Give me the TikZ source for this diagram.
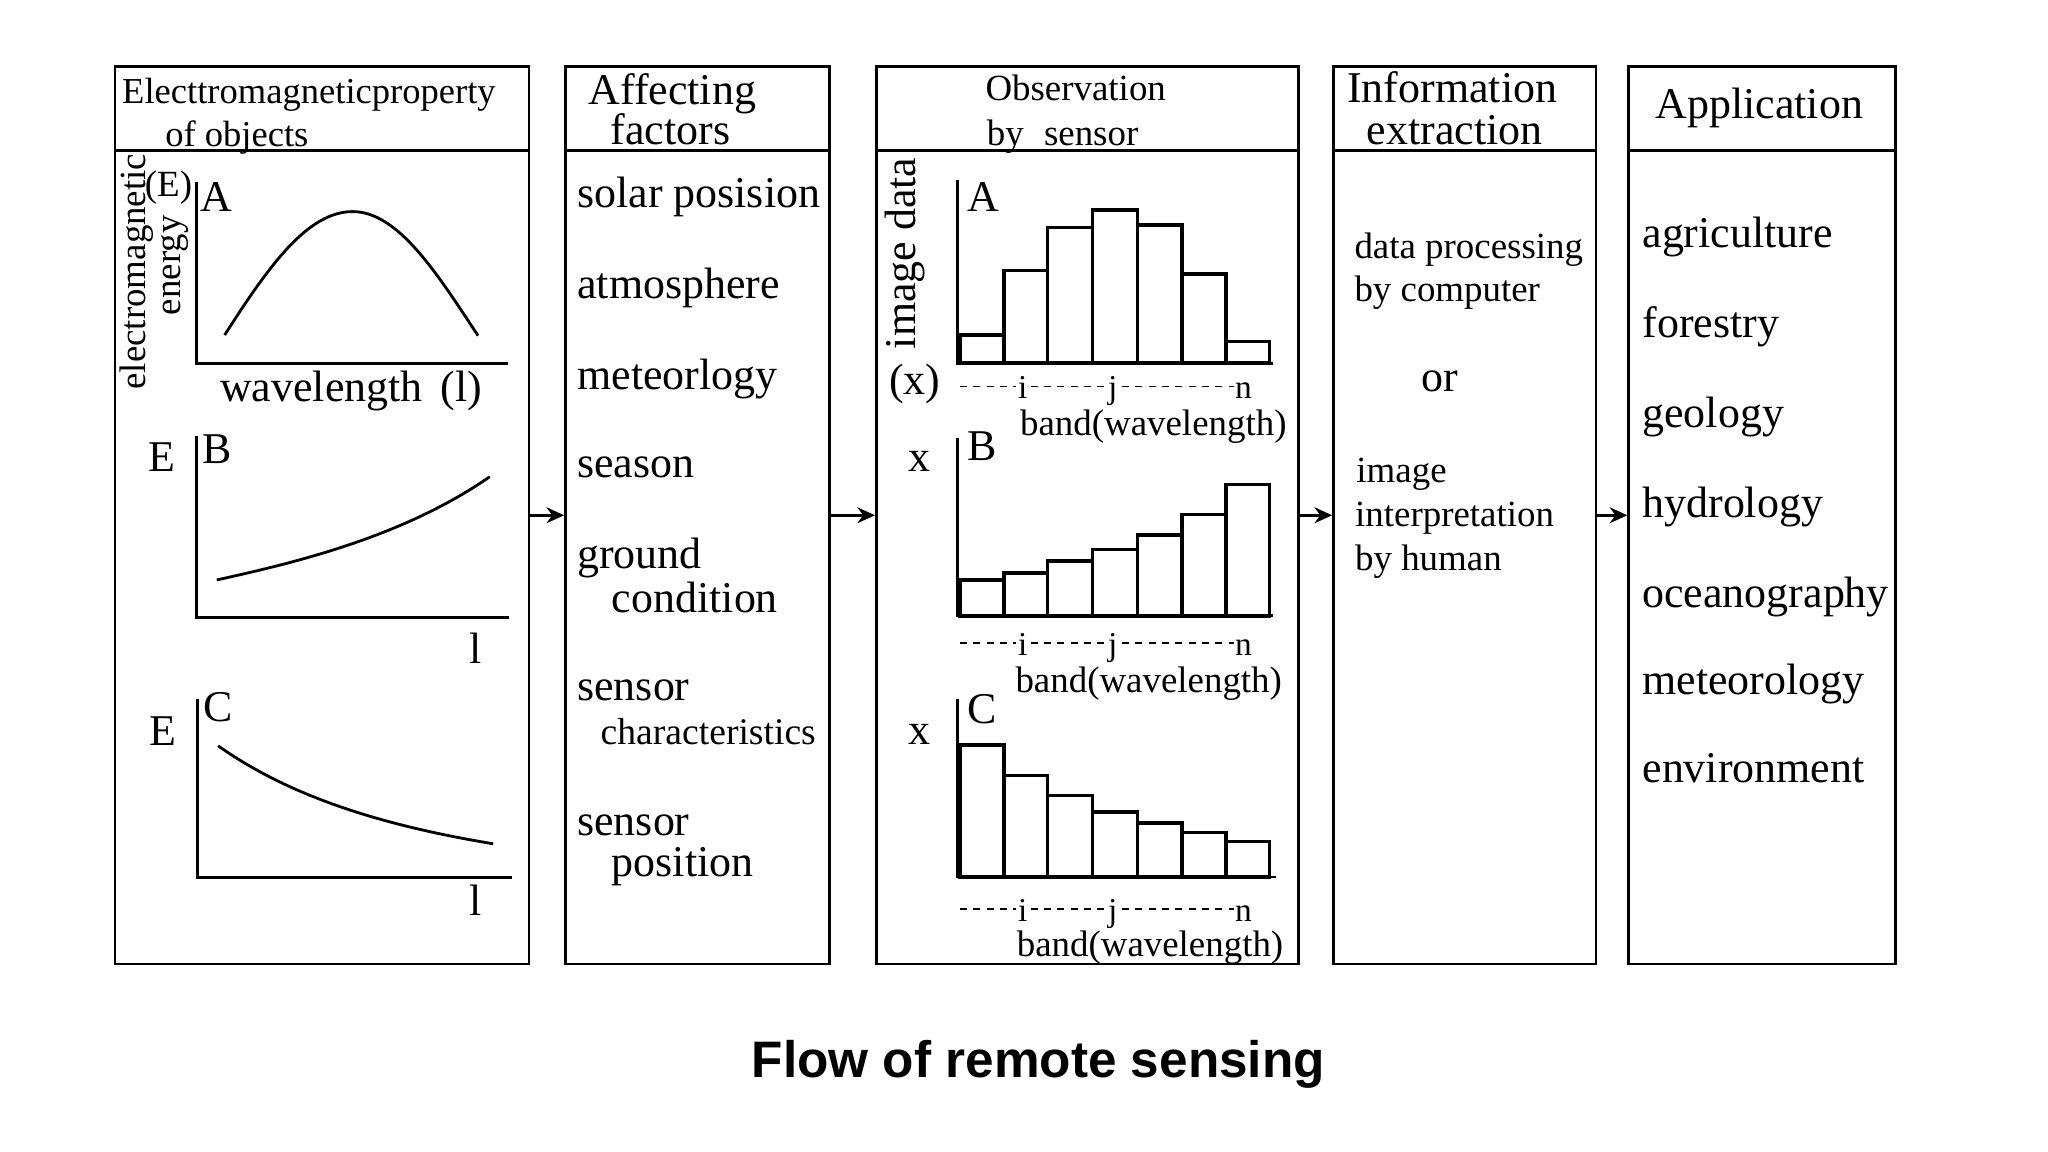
\documentclass[tikz,border=0pt]{standalone}
\usepackage{fontspec}
\setmainfont{Liberation Serif}
\newfontfamily\titlefont{Liberation Sans}
\usetikzlibrary{fit,arrows.meta}
\begin{document}
\begin{tikzpicture}[x=0.0130612cm,y=-0.0130612cm,
  box/.style={draw, line width=0.8pt, inner sep=0pt},
  big/.style={font=\fontsize{12.5}{14}\selectfont, inner sep=0pt, yshift=-1.7pt},
  sml/.style={font=\fontsize{10.5}{12}\selectfont, inner sep=0pt, yshift=-1.5pt},
  bigr/.style={font=\fontsize{12.5}{14}\selectfont, inner sep=0pt, rotate=90},
  smlr/.style={font=\fontsize{10.5}{12}\selectfont, inner sep=0pt, rotate=90},
  tny/.style={font=\fontsize{9.5}{11}\selectfont, inner sep=0pt, yshift=-1.2pt},
  ttl/.style={font=\titlefont\bfseries\fontsize{14.6}{17}\selectfont, inner sep=0pt},
  bar/.style={draw, line width=1pt},
  ax/.style={line width=0.8pt},
  crv/.style={line width=0.8pt},
  arr/.style={-{Stealth[length=5pt,width=4.5pt]}, line width=0.9pt},
  tk/.style={dash pattern=on 2pt off 1.8pt, line width=0.45pt}
]
\useasboundingbox[fill=white] (0,0) rectangle (1568,882);

% ---------- boxes ----------
\node[box, fit={(88,51) (405,738)}] (b1) {};
\node[box, fit={(433,51) (635,738)}] (b2) {};
\node[box, fit={(671,51) (994,738)}] (b3) {};
\node[box, fit={(1021,51) (1222,738)}] (b4) {};
\node[box, fit={(1247,51) (1451,738)}] (b5) {};
\foreach \b in {b1,b2,b3,b4,b5}
  \draw[line width=0.8pt] (\b.west |- 0,115) -- (\b.east |- 0,115);

% ---------- arrows ----------
\draw[arr] (b1.east) -- (b2.west);
\draw[arr] (b2.east) -- (b3.west);
\draw[arr] (b3.east) -- (b4.west);
\draw[arr] (b4.east) -- (b5.west);

% ---------- headers ----------
\node[sml, anchor=mid west, font=\fontsize{10.4}{12}\selectfont] (h1a) at (93,69) {Electtromagneticproperty};
\node[sml, anchor=mid west, font=\fontsize{10.4}{12}\selectfont] (h1b) at (126,102) {of objects};
\node[big, anchor=mid west] (h2a) at (450,69) {Affecting};
\node[big, anchor=mid west] (h2b) at (467,100) {factors};
\node[sml, anchor=mid west] (h3a) at (754,67) {Observation};
\node[sml, anchor=mid west] (h3b) at (755,101) {by\hspace{0.55em}sensor};
\node[big, anchor=mid west] (h4a) at (1031,68) {Information};
\node[big, anchor=mid west] (h4b) at (1046,100) {extraction};
\node[big, anchor=mid west] (h5a) at (1267,80) {Application};

% ---------- box 1: curves ----------
\node[smlr, anchor=mid] (ylab1) at (105,208) {electromagnetic};
\node[smlr, anchor=mid] (ylab2) at (132,203) {energy};
\node[sml, anchor=mid] (eA) at (129,140) {(E)};
\node[big, anchor=mid] (lA) at (166,151) {A};
\draw[ax] (150.6,139) -- (150.6,278) -- (389,278);
\draw[crv] (172,256.5) .. controls (205,205) and (235,162) .. (270,162)
           .. controls (305,162) and (335,210) .. (366,257);
\node[big, anchor=mid west] (wl) at (168,297) {wavelength};
\node[big, anchor=mid west] (wll) at (337,297) {(l)};

\node[big, anchor=mid] (eB) at (124,350) {E};
\node[big, anchor=mid] (lB) at (166,344.5) {B};
\draw[ax] (150.6,334) -- (150.6,473) -- (390,473);
\draw[crv] (166,444) .. controls (230,430) and (310,410) .. (375,365);
\node[big, anchor=mid] (lBx) at (364,497) {l};

\node[big, anchor=mid] (eC) at (125,560) {E};
\node[big, anchor=mid] (lC) at (167,542) {C};
\draw[ax] (151,535) -- (151,672) -- (392,672);
\draw[crv] (167,571) .. controls (215,605) and (280,630) .. (377.6,646);
\node[big, anchor=mid] (lCx) at (364,690) {l};

% ---------- box 2: factors ----------
\node[big, anchor=mid west] (f1) at (441.5,148.4) {solar posision};
\node[big, anchor=mid west] (f2) at (441.5,218) {atmosphere};
\node[big, anchor=mid west] (f3) at (441.5,287.6) {meteorlogy};
\node[big, anchor=mid west] (f4) at (441.5,355) {season};
\node[big, anchor=mid west] (f5) at (441.5,424.7) {ground};
\node[big, anchor=mid west] (f5b) at (468,458.4) {condition};
\node[big, anchor=mid west] (f6) at (441.5,525.8) {sensor};
\node[sml, anchor=mid west, font=\fontsize{10.7}{12}\selectfont] (f6b) at (459.4,559.5) {characteristics};
\node[big, anchor=mid west] (f7) at (441.5,629) {sensor};
\node[big, anchor=mid west] (f7b) at (468,660.6) {position};

% ---------- box 3: histograms ----------
\node[bigr, anchor=mid] (idat) at (695,194) {image data};
\node[big, anchor=mid] (px) at (700.5,291) {(x)};
\node[big, anchor=mid] (hA) at (752.6,151) {A};
\node[big, anchor=mid] (xB) at (704,350) {x};
\node[big, anchor=mid] (hB) at (751.6,342) {B};
\node[big, anchor=mid] (xC) at (704,559) {x};
\node[big, anchor=mid] (hC) at (751.6,543) {C};

% A
\foreach \l/\r/\h in {735/768.5/256.5, 768.5/802/207.2, 802/836.5/174, 836.5/871/160.8,
                      871/905/172.3, 905/938.5/209.8, 938.5/972/261.6}
  \draw[bar] (\l,278) rectangle (\r,\h);
\draw[ax] (733,138) -- (733,278) -- (975,278);
% B
\foreach \l/\r/\h in {735/768.5/444, 768.5/802/438.6, 802/836.5/429.5, 836.5/871/420.6,
                      871/905/409.6, 905/938.5/394, 938.5/972/370.8}
  \draw[bar] (\l,471.5) rectangle (\r,\h);
\draw[ax] (733,335) -- (733,471.5) -- (975,471.5);
% C
\foreach \l/\r/\h in {735/768.5/570.4, 768.5/802/593.7, 802/836.5/609.2, 836.5/871/621.7,
                      871/905/630, 905/938.5/637.4, 938.5/972/644.2}
  \draw[bar] (\l,671.5) rectangle (\r,\h);
\draw[ax] (733,535) -- (733,671.5) -- (977,671.5);

% band tick rows
\foreach \yy/\nm in {296/A, 492.5/B, 696/C} {
  \node[tny, anchor=mid] (ti\nm) at (783,\yy) {i};
  \node[tny, anchor=mid] (tj\nm) at (852,\yy) {j};
  \node[tny, anchor=mid] (tn\nm) at (952,\yy) {n};
  \draw[tk] (735,\yy) -- (778,\yy);
  \draw[tk] (789,\yy) -- (847,\yy);
  \draw[tk] (859,\yy) -- (945,\yy);
}
\node[sml, anchor=mid] (bwA) at (883,323) {band(wavelength)};
\node[sml, anchor=mid] (bwB) at (879.5,520) {band(wavelength)};
\node[sml, anchor=mid] (bwC) at (880.5,722) {band(wavelength)};

% ---------- box 4 ----------
\node[sml, anchor=mid west] (e1) at (1036.5,187.6) {data processing};
\node[sml, anchor=mid west] (e2) at (1036.5,221) {by computer};
\node[big, anchor=mid west] (e3) at (1088,288.7) {or};
\node[sml, anchor=mid west] (e4) at (1038,359) {image};
\node[sml, anchor=mid west] (e5) at (1037,393) {interpretation};
\node[sml, anchor=mid west] (e6) at (1037,426.5) {by human};

% ---------- box 5 ----------
\node[big, anchor=mid west] (a1) at (1257,179) {agriculture};
\node[big, anchor=mid west] (a2) at (1257,247.8) {forestry};
\node[big, anchor=mid west] (a3) at (1257,316.7) {geology};
\node[big, anchor=mid west] (a4) at (1257,385.5) {hydrology};
\node[big, anchor=mid west] (a5) at (1257,454.3) {oceanography};
\node[big, anchor=mid west] (a6) at (1257,521) {meteorology};
\node[big, anchor=mid west] (a7) at (1257,588) {environment};

% ---------- title ----------
\node[ttl, anchor=center] (title) at (795,815) {Flow of remote sensing};
\end{tikzpicture}
\end{document}
